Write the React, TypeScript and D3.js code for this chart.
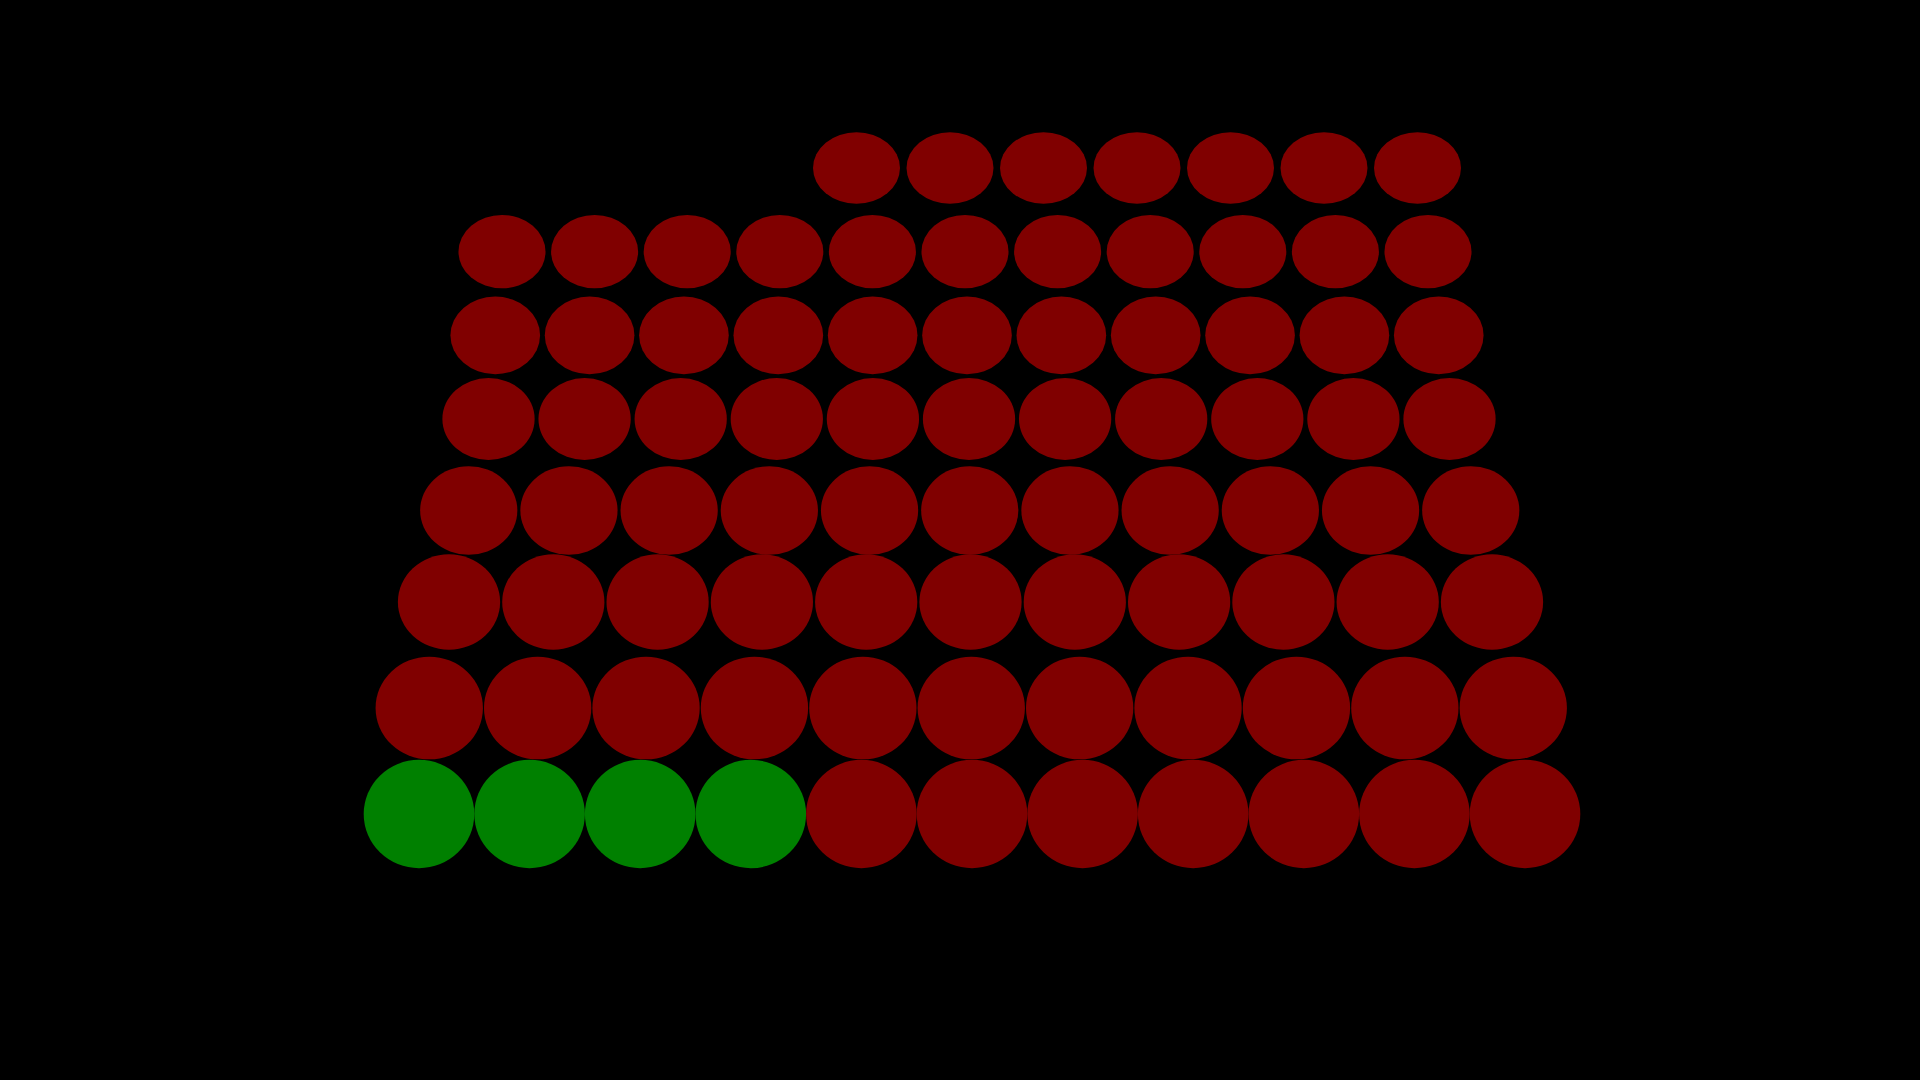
import React, { useEffect, useRef } from 'react';
import * as d3 from 'd3';

// categories and their counts (one dot per unit)
const categories = ['Green', 'Red'];
const counts = [4, 80];
const colors = ['#008000', '#800000'];

// grid shape
const columns = 11;

const App: React.FC = () => {
  const svgRef = useRef<SVGSVGElement>(null);

  useEffect(() => {
    if (!svgRef.current) return;

    const width = 1920;
    const height = 1080;

    const svg = d3.select(svgRef.current).attr('width', width).attr('height', height);
    svg.selectAll('*').remove();

    svg.append('rect').attr('width', width).attr('height', height).attr('fill', '#000000');

    // expand counts into units
    const units: { cat: string; color: string }[] = [];
    categories.forEach((c, ci) => {
      d3.range(counts[ci]).forEach(() => units.push({ cat: c, color: colors[ci] }));
    });

    const total = units.length;
    const nRows = Math.ceil(total / columns);
    const lastRowCount = total - (nRows - 1) * columns;

    // row index from top (0) to bottom (nRows - 1); perspective-like scales
    const rowY = d3.scaleLinear().domain([0, 3, 5, 7]).range([168, 419, 602, 814]);
    const rowSpacing = d3.scaleLinear().domain([0, 1, 3, 6, 7]).range([93.5, 92.6, 96.1, 108.4, 110.6]);
    const rowCenter = d3.scaleLinear().domain([0, 1, 3, 7]).range([950, 965, 969, 972]).clamp(true);
    const rxFactor = d3.scaleLinear().domain([0, 7]).range([0.465, 0.5]);
    const aspect = d3.scaleLinear().domain([0, 7]).range([0.82, 0.98]);

    const cells = units.map((u, j) => {
      const fromBottom = Math.floor(j / columns);
      const row = nRows - 1 - fromBottom;
      let col = j % columns;
      if (fromBottom === nRows - 1) col += columns - lastRowCount;
      const s = rowSpacing(row);
      const x = rowCenter(row) + (col - (columns - 1) / 2) * s;
      const rx = s * rxFactor(row);
      return { ...u, x, y: rowY(row), rx, ry: rx * aspect(row) };
    });

    svg
      .append('g')
      .selectAll('ellipse')
      .data(cells)
      .enter()
      .append('ellipse')
      .attr('cx', d => d.x)
      .attr('cy', d => d.y)
      .attr('rx', d => d.rx)
      .attr('ry', d => d.ry)
      .attr('fill', d => d.color);
  }, []);

  return (
    <div style={{ position: 'fixed', left: 0, top: 0, width: 1920, height: 1080, background: '#000' }}>
      <svg ref={svgRef} style={{ display: 'block' }}></svg>
    </div>
  );
};

export default App;
